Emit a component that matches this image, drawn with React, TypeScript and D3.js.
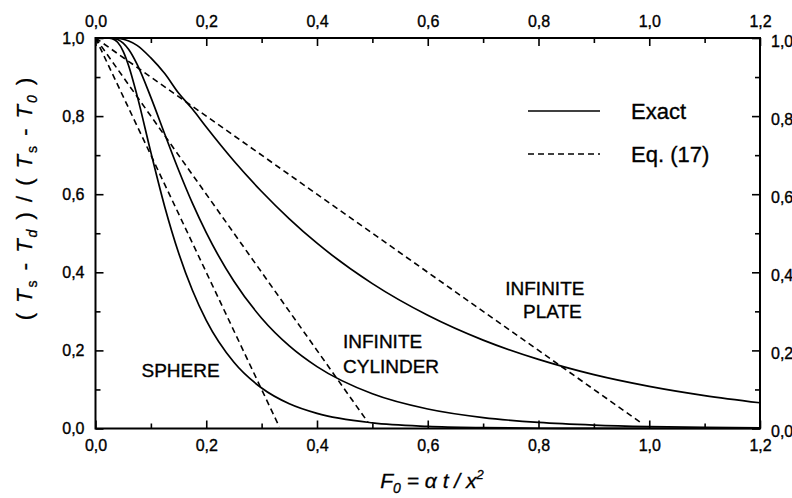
import React, { useEffect, useRef } from "react";
import * as d3 from "d3";

// Fourier number grid and center-temperature ratios
const foGrid = [0, 0.01, 0.02, 0.03, 0.04, 0.05, 0.06, 0.075, 0.1, 0.125, 0.15, 0.175, 0.2, 0.25, 0.3, 0.35, 0.4, 0.5, 0.6, 0.7, 0.8, 0.9, 1.0, 1.1, 1.2];
const plateExact = [1, 1, 1, 0.9999, 0.9992, 0.9968, 0.9921, 0.9812, 0.949, 0.909, 0.859, 0.818, 0.772, 0.685, 0.607, 0.537, 0.4745, 0.371, 0.29, 0.2264, 0.177, 0.138, 0.108, 0.0844, 0.0659];
const cylinderExact = [1, 1, 1, 0.9995, 0.9963, 0.987, 0.9705, 0.933, 0.848, 0.754, 0.662, 0.577, 0.5015, 0.377, 0.2825, 0.2116, 0.1585, 0.0889, 0.0499, 0.028, 0.0157, 0.0088, 0.0049, 0.0028, 0.0016];
const sphereExact = [1, 1, 1, 0.9985, 0.989, 0.966, 0.9285, 0.853, 0.707, 0.568, 0.45, 0.354, 0.277, 0.1695, 0.1036, 0.0632, 0.0386, 0.0144, 0.0054, 0.002, 0.0007, 0.0003, 0.0001, 0, 0];

// Eq. (17) approximations (straight lines)
const plateApproxFo = [0, 0.985];
const plateApproxVal = [1, 0.015];
const cylinderApproxFo = [0, 0.492];
const cylinderApproxVal = [1, 0.016];
const sphereApproxFo = [0, 0.332];
const sphereApproxVal = [1, 0.004];

const majorX = [0, 0.2, 0.4, 0.6, 0.8, 1.0, 1.2];
const minorX = [0.1, 0.3, 0.5, 0.7, 0.9, 1.1];
const majorY = [0, 0.2, 0.4, 0.6, 0.8, 1.0];
const minorY = [0.1, 0.3, 0.5, 0.7, 0.9];

const legendLabels = ["Exact", "Eq. (17)"];

const annotations = [
  { text: "SPHERE", fo: 0.083, val: 0.133 },
  { text: "INFINITE", fo: 0.447, val: 0.206 },
  { text: "CYLINDER", fo: 0.447, val: 0.142 },
  { text: "INFINITE", fo: 0.74, val: 0.341 },
  { text: "PLATE", fo: 0.772, val: 0.282 },
];

const W = 792;
const H = 498;
const FONT = "'Liberation Sans', Arial, Helvetica, sans-serif";

export default function App() {
  const ref = useRef<SVGSVGElement | null>(null);

  useEffect(() => {
    const svg = d3.select(ref.current);
    svg.selectAll("*").remove();

    const x = d3.scaleLinear().domain([0, 1.2]).range([95.5, 760]);
    const y = d3.scaleLinear().domain([0, 1]).range([428.5, 38]);
    const fmt = (d: any) => d3.format(".1f")(d).replace(".", ",");

    svg.append("rect").attr("width", W).attr("height", H).attr("fill", "#fff");

    // frame
    svg
      .append("rect")
      .attr("x", x(0))
      .attr("y", y(1))
      .attr("width", x(1.2) - x(0))
      .attr("height", y(0) - y(1))
      .attr("fill", "none")
      .attr("stroke", "#000")
      .attr("stroke-width", 2);

    const styleAxis = (g: any, dyShift = 0) => {
      g.select(".domain").remove();
      g.selectAll("line").attr("stroke", "#000").attr("stroke-width", 1.6);
      g.selectAll("text")
        .style("font-family", FONT)
        .style("font-size", "16px")
        .attr("fill", "#000")
        .attr("stroke", "#000")
        .attr("stroke-width", 0.35);
      if (dyShift) g.selectAll("text").attr("transform", `translate(0,${dyShift})`);
    };

    const addAxis = (axisFn: any, scale: any, tr: string, dyShift = 0) => {
      svg
        .append("g")
        .attr("transform", tr)
        .call(axisFn(scale).tickValues(scale === x ? majorX : majorY).tickSizeInner(-8).tickSizeOuter(0).tickPadding(11).tickFormat(fmt))
        .call((g: any) => styleAxis(g, dyShift));
      svg
        .append("g")
        .attr("transform", tr)
        .call(axisFn(scale).tickValues(scale === x ? minorX : minorY).tickSizeInner(-5).tickSizeOuter(0).tickFormat(() => ""))
        .call((g: any) => styleAxis(g));
    };

    addAxis(d3.axisBottom, x, `translate(0,${y(0)})`);
    addAxis(d3.axisTop, x, `translate(0,${y(1)})`);
    addAxis(d3.axisLeft, y, `translate(${x(0)},0)`);
    addAxis(d3.axisRight, y, `translate(${x(1.2)},0)`, 3);

    const line = d3
      .line<[number, number]>()
      .x((d) => x(d[0]))
      .y((d) => y(d[1]))
      .curve(d3.curveMonotoneX);

    const exactSeries = [plateExact, cylinderExact, sphereExact];
    exactSeries.forEach((vals) => {
      svg
        .append("path")
        .attr("d", line(foGrid.map((f, i) => [f, vals[i]] as [number, number])))
        .attr("fill", "none")
        .attr("stroke", "#000")
        .attr("stroke-width", 1.7);
    });

    const approxSeries = [
      [plateApproxFo, plateApproxVal],
      [cylinderApproxFo, cylinderApproxVal],
      [sphereApproxFo, sphereApproxVal],
    ];
    approxSeries.forEach(([fo, vals]) => {
      svg
        .append("path")
        .attr("d", d3.line<[number, number]>().x((d) => x(d[0])).y((d) => y(d[1]))(fo.map((f, i) => [f, vals[i]] as [number, number])))
        .attr("fill", "none")
        .attr("stroke", "#000")
        .attr("stroke-width", 1.6)
        .attr("stroke-dasharray", "6,4");
    });

    // legend
    const legend = svg.append("g");
    legendLabels.forEach((lab, i) => {
      const ly = 111 + i * 43;
      legend
        .append("line")
        .attr("x1", 528)
        .attr("x2", 600)
        .attr("y1", ly)
        .attr("y2", ly)
        .attr("stroke", "#000")
        .attr("stroke-width", 1.7)
        .attr("stroke-dasharray", i === 0 ? null : "6,4");
      legend
        .append("text")
        .attr("x", 631)
        .attr("y", ly + 8)
        .text(lab)
        .style("font-family", FONT)
        .style("font-size", "22px")
        .attr("fill", "#000")
        .attr("stroke", "#000")
        .attr("stroke-width", 0.35);
    });

    // curve annotations
    annotations.forEach((a) => {
      svg
        .append("text")
        .attr("x", x(a.fo))
        .attr("y", y(a.val))
        .text(a.text)
        .style("font-family", FONT)
        .style("font-size", "19px")
        .attr("fill", "#000")
        .attr("stroke", "#000")
        .attr("stroke-width", 0.35);
    });

    // x title
    const xt = svg
      .append("text")
      .attr("x", 432)
      .attr("y", 488)
      .attr("text-anchor", "middle")
      .style("font-family", FONT)
      .style("font-size", "21px")
      .style("font-style", "italic")
      .attr("fill", "#000")
      .attr("stroke", "#000")
      .attr("stroke-width", 0.3);
    xt.append("tspan").text("F");
    xt.append("tspan").attr("dy", 5).style("font-size", "14px").text("0");
    xt.append("tspan").attr("dy", -5).text(" = α t / x");
    xt.append("tspan").attr("dy", -9).style("font-size", "13px").text("2");

    // y title
    const yt = svg
      .append("text")
      .attr("transform", "translate(32,198) rotate(-90)")
      .attr("text-anchor", "middle")
      .style("font-family", FONT)
      .style("font-size", "22px")
      .style("letter-spacing", "2px")
      .attr("fill", "#000")
      .attr("stroke", "#000")
      .attr("stroke-width", 0.3);
    const part = (t: string, opts: { italic?: boolean; sub?: boolean } = {}) => {
      const ts = yt.append("tspan").text(t);
      if (opts.italic) ts.style("font-style", "italic");
      if (opts.sub) ts.style("font-size", "14px").attr("dy", 5);
      return ts;
    };
    part("( ");
    part("T", { italic: true });
    part("s", { sub: true });
    part(" - ").attr("dy", -5);
    part("T", { italic: true });
    part("d", { sub: true, italic: true });
    part(" ) / ( ").attr("dy", -5);
    part("T", { italic: true });
    part("s", { sub: true });
    part(" - ").attr("dy", -5);
    part("T", { italic: true });
    part("0", { sub: true, italic: true });
    part(" )").attr("dy", -5);
  }, []);

  return (
    <svg
      ref={ref}
      width={W}
      height={H}
      style={{ position: "absolute", left: 0, top: 0, display: "block" }}
    />
  );
}
